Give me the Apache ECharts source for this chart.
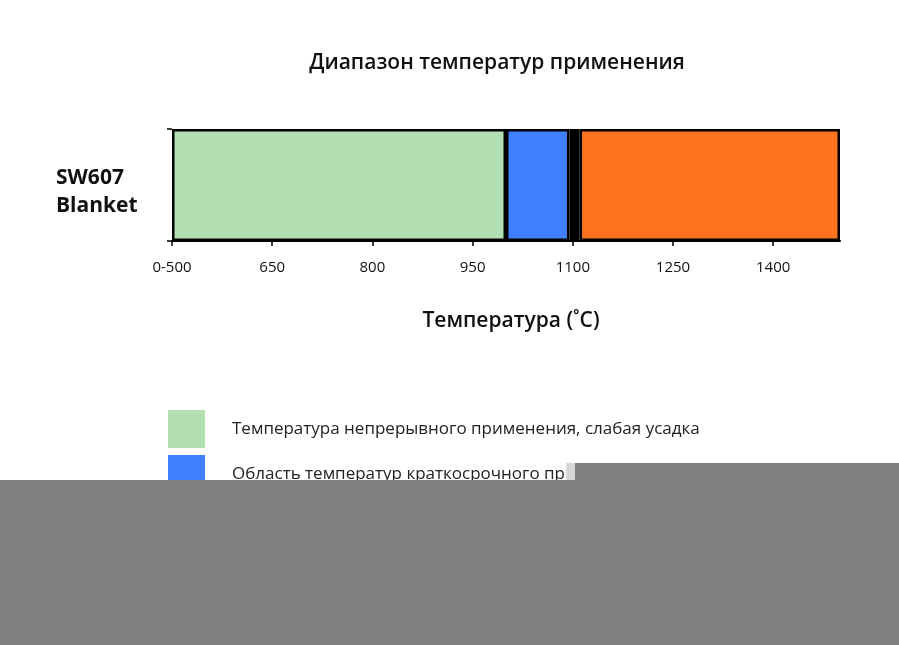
<!DOCTYPE html>
<html>
<head>
<meta charset="utf-8">
<script src="https://cdn.jsdelivr.net/npm/echarts@6/dist/echarts.min.js"></script>
<style>html,body{margin:0;padding:0;background:#fff}#c{width:899px;height:645px}</style>
</head>
<body>
<div id="c"></div>
<script>
var categories = ['SW607\nBlanket'];
var segmentNames = [
  'Температура непрерывного применения, слабая усадка',
  'Область температур краткосрочного применения',
  'Граница',
  'Область высоких температур'
];
var segmentStart = [500, 1000, 1095, 1110];
var segmentEnd = [1000, 1095, 1110, 1500];
var segmentColors = ['#b3e0b3', '#4080ff', '#000000', '#ff7320'];
var tickValues = [500, 650, 800, 950, 1100, 1250, 1400];
var tickLabels = ['0-500', '650', '800', '950', '1100', '1250', '1400'];

var FONT = '"Open Sans", "DejaVu Sans", sans-serif';
var series = [{
  name: 'base', type: 'bar', stack: 't', barWidth: '100%',
  data: [segmentStart[0]], itemStyle: { color: 'transparent' }, silent: true
}];
for (var i = 0; i < segmentNames.length; i++) {
  series.push({
    name: segmentNames[i], type: 'bar', stack: 't', barWidth: '100%',
    data: [segmentEnd[i] - segmentStart[i]],
    itemStyle: { color: segmentColors[i], borderColor: '#000', borderWidth: 2.5 }
  });
}
var chart = echarts.init(document.getElementById('c'));
chart.setOption({
  animation: false,
  backgroundColor: '#fff',
  title: {
    text: 'Диапазон температур применения', left: 492, top: 48, textAlign: 'center',
    textStyle: { fontFamily: FONT, fontSize: 21, fontWeight: 600, color: '#111' }
  },
  grid: { left: 172, right: 59, top: 129, bottom: 404 },
  xAxis: {
    type: 'value', min: 500, max: 1500, interval: 150,
    name: 'Температура (˚C)', nameLocation: 'middle', nameGap: 70,
    nameTextStyle: { fontFamily: FONT, fontSize: 21, fontWeight: 600, color: '#111', padding: [0, 0, 0, 10] },
    axisLine: { show: true, lineStyle: { color: '#000', width: 2 } },
    axisTick: { show: true, length: 5, lineStyle: { color: '#000', width: 1.5 } },
    splitLine: { show: false },
    axisLabel: {
      fontFamily: FONT, fontSize: 15, color: '#111', margin: 19, showMaxLabel: false,
      formatter: function (v) { var k = tickValues.indexOf(v); return k >= 0 ? tickLabels[k] : ''; }
    }
  },
  yAxis: {
    type: 'category', data: categories,
    axisLine: { show: false },
    axisTick: { show: true, length: 5, lineStyle: { color: '#000', width: 1.5 } },
    axisLabel: {
      align: 'left', margin: 116,
      formatter: function (v) {
        return '{s|}\n' + v.split('\n').map(function (t) { return '{b|' + t + '}'; }).join('\n');
      },
      rich: {
        s: { height: 14, lineHeight: 14, fontSize: 10 },
        b: { fontFamily: FONT, fontSize: 21, fontWeight: 700, color: '#111', lineHeight: 28 }
      }
    }
  },
  legend: {
    orient: 'vertical', left: 163, top: 405, itemWidth: 37, itemHeight: 38, itemGap: 7,
    icon: 'rect', selectedMode: false,
    data: segmentNames.map(function (n, i) { return { name: n, itemStyle: { color: segmentColors[i], borderWidth: 0 } }; }),
    textStyle: { fontFamily: FONT, fontSize: 17, color: '#222', padding: [0, 0, 0, 22] }
  },
  graphic: [
    { type: 'rect', z: 100, shape: { x: 566, y: 463, width: 10, height: 17 }, style: { fill: '#d8d8d8' } },
    { type: 'rect', z: 100, shape: { x: 575, y: 463, width: 324, height: 17 }, style: { fill: '#808080' } },
    { type: 'rect', z: 100, shape: { x: 0, y: 480, width: 899, height: 165 }, style: { fill: '#808080' } }
  ],
  series: series
});
</script>
</body>
</html>
